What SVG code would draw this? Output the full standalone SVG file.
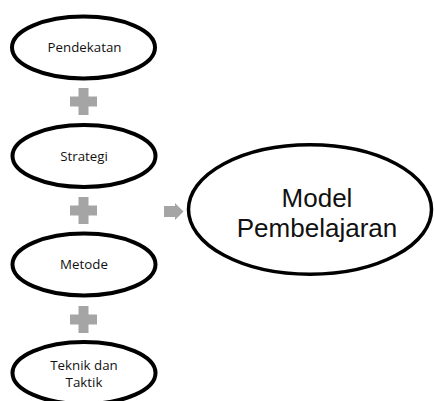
<svg xmlns="http://www.w3.org/2000/svg" width="434" height="401" viewBox="0 0 434 401">
<style>
.node ellipse{fill:#fff;stroke:#000;stroke-width:4}
.big ellipse{stroke-width:3.5}
.lbl{font-family:"Open Sans","Noto Sans","Liberation Sans",sans-serif;font-size:13.3px;fill:#111;text-anchor:middle}
.blbl{font-family:"Liberation Sans","Open Sans",sans-serif;font-size:26px;fill:#111;text-anchor:middle}
.conn{fill:#A5A5A5}
</style>
<defs>
<path id="plus" d="M-13.5,-5 H-5 V-13.5 H5 V-5 H13.5 V5 H5 V13.5 H-5 V5 H-13.5 Z"/>
</defs>
<g id="connectors" class="conn">
<use href="#plus" x="83.5" y="101.5"/>
<use href="#plus" x="83.5" y="210.5"/>
<use href="#plus" x="83.5" y="319.5"/>
<path d="M164,206 H175 V203 L183.5,211.5 L175,220 V217 H164 Z"/>
</g>
<g id="n1" class="node">
<ellipse cx="83.5" cy="47.5" rx="71.5" ry="31"/>
<text class="lbl" x="84.5" y="51.5">Pendekatan</text>
</g>
<g id="n2" class="node">
<ellipse cx="84" cy="156" rx="71.5" ry="31"/>
<text class="lbl" x="84" y="160.5">Strategi</text>
</g>
<g id="n3" class="node">
<ellipse cx="84" cy="264.5" rx="71.5" ry="31"/>
<text class="lbl" x="84" y="269">Metode</text>
</g>
<g id="n4" class="node">
<ellipse cx="84" cy="373" rx="71.5" ry="31"/>
<text class="lbl" x="84" y="370">Teknik dan</text>
<text class="lbl" x="84" y="386.5">Taktik</text>
</g>
<g id="n5" class="node big">
<ellipse cx="310" cy="209.5" rx="121.5" ry="64.75"/>
<text class="blbl" x="317" y="206.5">Model</text>
<text class="blbl" x="317" y="237">Pembelajaran</text>
</g>
</svg>
